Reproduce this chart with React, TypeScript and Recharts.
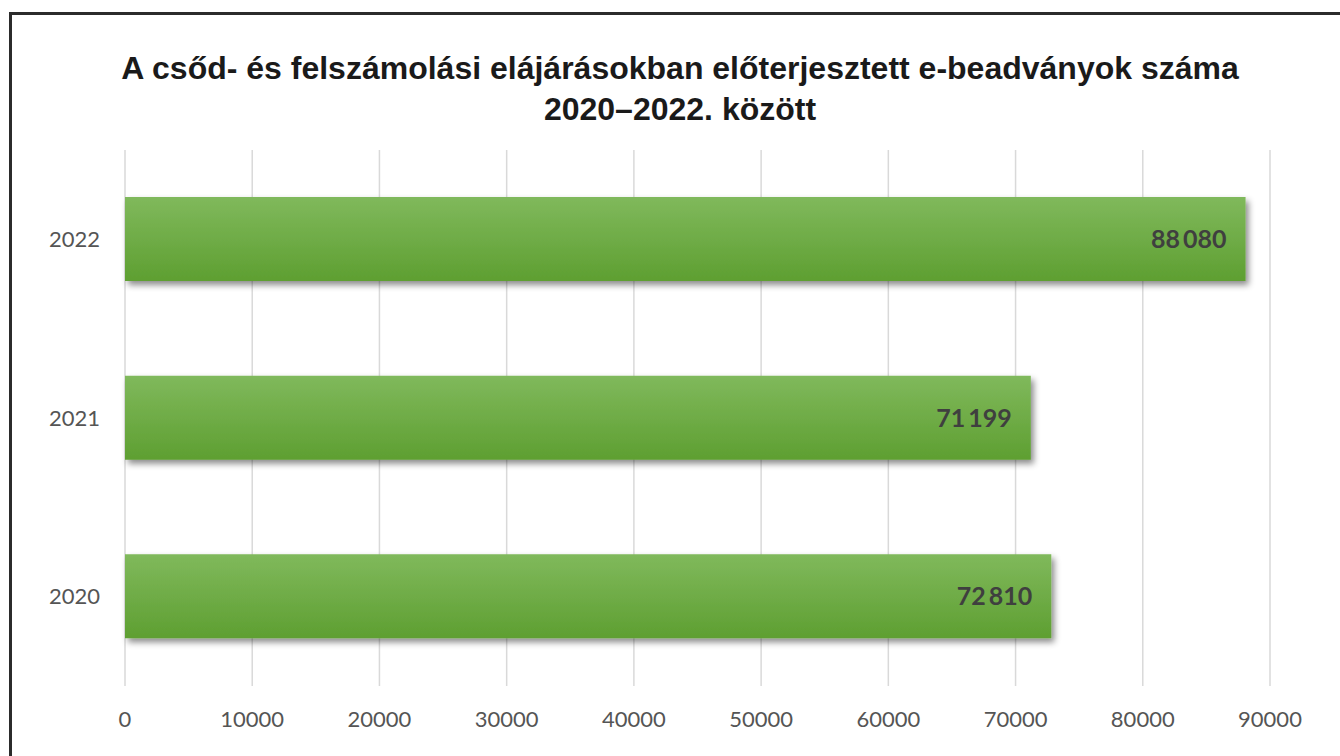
import React from "react";
import { BarChart, Bar, XAxis, YAxis, CartesianGrid, LabelList } from "recharts";

// values, listed top to bottom
const years = ["2022", "2021", "2020"];
const filings = [88080, 71199, 72810];
const xTicks = [0, 10000, 20000, 30000, 40000, 50000, 60000, 70000, 80000, 90000];

const data = years.map((y, i) => ({ year: y, value: filings[i] }));

const fmt = (v: number) => v.toLocaleString("en-US").replace(/,/g, "\u2009");

const App = () => {
  return (
    <div style={{ position: "absolute", left: 0, top: 0, width: 1340, height: 756, background: "#fff", overflow: "hidden" }}>
      {/* frame, only left and top edges are visible */}
      <div
        style={{
          position: "absolute",
          left: 9,
          top: 12,
          width: 1400,
          height: 800,
          borderLeft: "3px solid #2b2b2b",
          borderTop: "3px solid #2b2b2b",
        }}
      />
      <div
        style={{
          position: "absolute",
          left: 0,
          top: 48,
          width: 1360,
          textAlign: "center",
          fontFamily: "'Liberation Sans', Arial, sans-serif",
          fontWeight: "bold",
          fontSize: 32,
          lineHeight: "41px",
          color: "#1a1a1a",
        }}
      >
        A csőd- és felszámolási elájárásokban előterjesztett e-beadványok száma
        <br />
        2020–2022. között
      </div>
      <div style={{ position: "absolute", left: 0, top: 0 }}>
        <BarChart
          width={1340}
          height={756}
          data={data}
          layout="vertical"
          margin={{ top: 150, right: 70, bottom: 20, left: 45 }}
          barCategoryGap={0}
        >
          <defs>
            <linearGradient id="barFill" x1="0" y1="0" x2="0" y2="1">
              <stop offset="0%" stopColor="#80b95c" />
              <stop offset="100%" stopColor="#5e9f31" />
            </linearGradient>
            <filter id="barShadow" x="-5%" y="-20%" width="110%" height="150%">
              <feDropShadow dx="3" dy="4" stdDeviation="3" floodColor="#000" floodOpacity="0.45" />
            </filter>
          </defs>
          <CartesianGrid horizontal={false} stroke="#d9d9d9" strokeWidth={1.5} />
          <XAxis
            type="number"
            domain={[0, 90000]}
            ticks={xTicks}
            axisLine={false}
            tickLine={false}
            height={50}
            tickMargin={19}
            tick={{ fill: "#555555", fontSize: 22, fontFamily: "Lato, sans-serif" }}
          />
          <YAxis
            type="category"
            dataKey="year"
            width={80}
            axisLine={false}
            tickLine={false}
            tickMargin={19}
            tick={{ fill: "#555555", fontSize: 22, fontFamily: "Lato, sans-serif" }}
          />
          <Bar
            dataKey="value"
            barSize={84}
            fill="url(#barFill)"
            filter="url(#barShadow)"
            isAnimationActive={false}
          >
            <LabelList
              dataKey="value"
              position="insideRight"
              offset={19}
              formatter={(v: number) => fmt(v)}
              style={{ fill: "#3f3f3f", fontSize: 25, fontWeight: "bold", fontFamily: "Lato, sans-serif" }}
            />
          </Bar>
        </BarChart>
      </div>
    </div>
  );
};

export default App;
